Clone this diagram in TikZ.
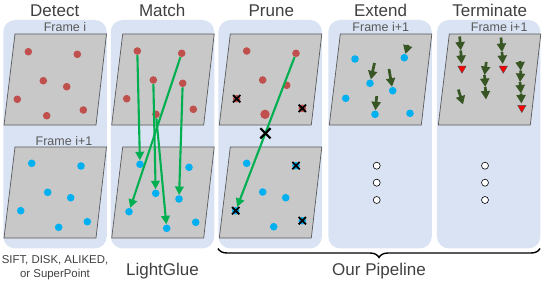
\documentclass[tikz,border=0pt]{standalone}
\usepackage{fontspec}
\setmainfont{Liberation Sans}
\usepackage{xcolor}
\usetikzlibrary{
  arrows.meta, shapes.geometric, shapes.misc,
  positioning, decorations.pathreplacing
}
\definecolor{PanelBlue}{RGB}{218,227,243}
\definecolor{FrameGray}{RGB}{200,200,200}
\definecolor{DotRed}{RGB}{192,80,77}
\definecolor{DotBlue}{RGB}{0,176,240}
\definecolor{MatchGreen}{RGB}{0,176,80}
\definecolor{TrackGreen}{RGB}{55,86,35}
\definecolor{TextGray}{RGB}{64,64,64}

\begin{document}
\begin{tikzpicture}[x=1pt,y=-1pt,
        panel/.style={fill=PanelBlue,rounded corners=12pt,inner sep=0pt,
                      minimum width=103.5pt,minimum height=228.5pt},
        frm/.style={fill=FrameGray,draw=black!65,line width=0.7pt},
        rdot/.style={circle,fill=DotRed,minimum size=7.6pt,inner sep=0pt},
        bdot/.style={circle,fill=DotBlue,minimum size=7.6pt,inner sep=0pt},
        link/.style={draw=MatchGreen,line width=2.1pt,-{Triangle[length=8.5pt,width=8.5pt]}},
        trk/.style={draw=TrackGreen,line width=2.7pt,-{Triangle[length=8.5pt,width=9pt]}},
        stopmark/.style={regular polygon,regular polygon sides=3,shape border rotate=180,
                         fill=red,draw=black!70,line width=0.4pt,minimum size=9.5pt,inner sep=0pt},
        xmark/.style={cross out,draw=black,line width=1.8pt,minimum size=5.5pt,inner sep=0pt},
        bigx/.style={cross out,draw=black,line width=2.2pt,minimum size=8pt,inner sep=0pt},
        vdot/.style={circle,draw=black,fill=white,line width=0.6pt,minimum size=7pt,inner sep=0pt},
        ttl/.style={anchor=base,text=TextGray,font=\fontsize{17}{20}\selectfont},
        lbl/.style={anchor=base,text=black!65,font=\fontsize{12.5}{14}\selectfont},
        note/.style={text=TextGray,font=\fontsize{11.4}{14.4}\selectfont,align=center}
      ]
        \useasboundingbox (0,0) rectangle (543,281);
        % panels
        \node[panel] (detect) at (55,134.2) {};
        \node[panel] (match) at (162.5,134.2) {};
        \node[panel] (prune) at (270.2,134.2) {};
        \node[panel] (extend) at (380,134.2) {};
        \node[panel] (terminate) at (488.7,134.2) {};
        \foreach \x/\y in {3/34,110.7/34,218.3/34,328.3/34,437.3/34,3/147,110.7/147,218.3/147}
          \draw[frm] (\x+12,\y) -- (\x+103.5,\y) -- (\x+93,\y+91) -- (\x+1,\y+91) -- cycle;
        % keypoints
        \foreach \n/\x/\y in {1/28.3/51.7,2/77.3/54.3,3/43.3/80.7,4/66.7/86.7,5/17.3/99.3,6/83.3/110,7/46.7/115.7}
          \node[rdot] (dr\n) at (\x,\y) {};
        \foreach \n/\x/\y in {1/31.7/163.3,2/81/166,3/47.7/192.3,4/70.7/197.7,5/20.7/210.7,6/87.3/221.7,7/58.7/227.3}
          \node[bdot] (db\n) at (\x,\y) {};
        \foreach \n/\x/\y in {1/137.3/51,2/181.7/53.3,3/153.3/80,4/182.7/83.3,5/126.7/98.7,6/193.3/109.3,7/156/114.3}
          \node[rdot] (mr\n) at (\x,\y) {};
        \foreach \n/\x/\y in {1/140/164.3,2/189/167.3,3/155.7/193.3,4/179/199,5/129/211.7,6/195.7/222.3,7/166.7/228.3}
          \node[bdot] (mb\n) at (\x,\y) {};
        \foreach \n/\x/\y in {1/246.7/51,2/296/53.3,3/262.7/80,4/286.7/85.3,5/236.7/98.7,6/302.3/108.3}
          \node[rdot] (pr\n) at (\x,\y) {};
        \node[rdot,minimum size=9.4pt] (pr7) at (265,114.3) {};
        \foreach \n/\x/\y in {1/246.7/163.3,2/296/165.7,3/262.7/192,4/285.7/197.7,5/235.7/210.7,6/302.3/220.7,7/273.7/226.7}
          \node[bdot] (pb\n) at (\x,\y) {};
        \foreach \n/\x/\y in {1/355/59,2/404.3/57.7,3/370/83.3,4/392.7/90.7,5/345.7/98.3,6/410/113.3,7/375/114.3}
          \node[bdot] (eb\n) at (\x,\y) {};
        % matches
        \draw[link] (mr1) -- (mb1);
        \draw[link] (mr2) -- (mb5);
        \draw[link] (mr3) -- (mb3);
        \draw[link] (mr4) -- (mb4);
        \draw[link] (mr7) -- (mb7);
        \draw[link] (pr2) -- (pb5);
        \node[bigx] (cut) at (265.4,133.3) {};
        \foreach \m in {pr5,pr6,pb2,pb5,pb6}
          \node[xmark] (x\m) at (\m) {};
        % tracks
        \coordinate (e1) at (408,45);
        \coordinate (e2) at (374.5,63);
        \coordinate (e3) at (389,69);
        \coordinate (e4) at (376.7,96);
        \draw[trk] (e1) -- (eb2);
        \draw[trk] (e2) -- (eb3);
        \draw[trk] (e3) -- (eb4);
        \draw[trk] (e4) -- (eb7);
        \coordinate (t11) at (459.7,36.5);
        \coordinate (t12) at (460.7,50.5);
        \coordinate (t13) at (461.7,64);
        \coordinate (t21) at (501,37.5);
        \coordinate (t22) at (502,52);
        \coordinate (t23) at (502.8,64);
        \coordinate (t31) at (520,61);
        \coordinate (t32) at (520.8,70.5);
        \coordinate (t33) at (520,82);
        \coordinate (t34) at (521,93.5);
        \coordinate (t35) at (521.5,103.5);
        \coordinate (t41) at (486.3,62);
        \coordinate (t42) at (484.5,75);
        \coordinate (t43) at (485.3,87);
        \coordinate (t44) at (486,99.5);
        \coordinate (t51) at (458.3,89.5);
        \coordinate (t52) at (463,104.5);
        \foreach \a/\b in {t11/t12,t12/t13,t21/t22,t22/t23,t31/t32,t32/t33,t33/t34,t34/t35,
                           t41/t42,t42/t43,t43/t44,t51/t52}
          \draw[trk] (\a) -- (\b);
        \node[stopmark] (s1) at (462,68.5) {};
        \node[stopmark] (s2) at (503.3,68.5) {};
        \node[stopmark] (s3) at (521.8,107.8) {};
        \foreach \c/\x in {e/376.7,t/485}
          \foreach \k/\y in {1/165.7,2/182.7,3/200}
            \node[vdot] (v\c\k) at (\x,\y) {};
        % labels
        \node[ttl] (ldetect) at (54.7,16.8) {Detect};
        \node[ttl] (lmatch) at (162.2,16.8) {Match};
        \node[ttl] (lprune) at (271.3,16.8) {Prune};
        \node[ttl] (lextend) at (380.5,16.8) {Extend};
        \node[ttl] (lterminate) at (489.7,16.8) {Terminate};
        \node[lbl] (fi) at (65,31.7) {Frame i};
        \node[lbl] (fj) at (64,145) {Frame i+1};
        \node[lbl] (fe) at (380.8,31.7) {Frame i+1};
        \node[lbl] (ft) at (499.2,31.7) {Frame i+1};
        \node[note] (lfeat) at (55,267.6) {SIFT, DISK, ALIKED,\\or SuperPoint};
        \node[ttl] (lglue) at (162.5,275) {LightGlue};
        \coordinate (bl) at (218,248.5);
        \coordinate (br) at (540,248.5);
        \draw[decorate,decoration={brace,amplitude=9pt,mirror},line width=1.4pt] (bl) -- (br);
        \node[ttl] (lours) at (379,275.7) {Our Pipeline};
      \end{tikzpicture}
\end{document}
